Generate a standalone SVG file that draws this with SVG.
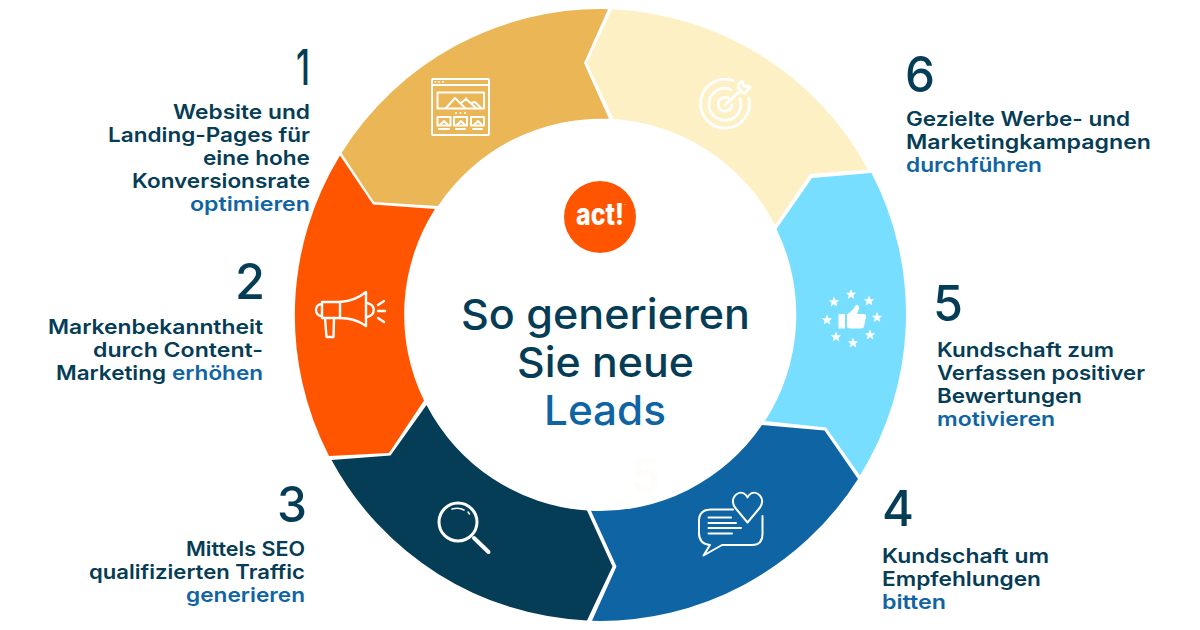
<svg xmlns="http://www.w3.org/2000/svg" width="1200" height="630" viewBox="0 0 1200 630">
<style>
text{font-family:"Inter","Liberation Sans",sans-serif}
.l{font-size:20px;font-weight:600;fill:#053c56}
.n{font-size:49px;font-weight:500;fill:#053c56}
.c{font-size:41px;font-weight:500;fill:#053c56}
.b{fill:#0f64a3}
.i{fill:none;stroke:#fff;stroke-width:2;stroke-linecap:round;stroke-linejoin:round}
.i2{fill:none;stroke:#fff;stroke-width:3;stroke-linecap:round;stroke-linejoin:round}
.f{fill:#fff}
</style>
<defs>
<polygon id="star" points="0,-5.500 1.500,-1.800 5.200,-1.700 2.400,0.700 3.300,4.400 0,2.300 -3.300,4.400 -2.400,0.700 -5.200,-1.700 -1.500,-1.800" fill="#fff"/>
</defs>
<rect width="1200" height="630" fill="#fff"/>

<g id="step-1">
<path d="M341.500 153A306 306 0 0 1 608 9.200L584 63L609 118.800A196 196 0 0 0 438 206L374 202Z" fill="#eab656"/>
<g class="i">
<rect x="432" y="79" width="57" height="56" rx="1"/>
<path d="M432 85H489"/>
<rect x="437.500" y="92.500" width="46.500" height="16"/>
<path d="M446 108L455 98L465 108M461 103L466 99L476 108M471 103L475 102L481 108"/>
<rect x="437.500" y="117" width="13" height="8.500"/><rect x="454" y="117" width="13" height="8.500"/><rect x="471" y="117" width="13" height="8.500"/>
<path d="M440 125L444 121L448 125M457 125L461 121L465 125M474 125L478 121L482 125M439 129H449M456 129H465M473 129H482"/>
</g>
<g class="f"><circle cx="435.500" cy="82" r="1"/><circle cx="439" cy="82" r="1"/><circle cx="443" cy="82" r="1"/><circle cx="456" cy="113" r="1"/><circle cx="460.500" cy="113" r="1"/><circle cx="465" cy="113" r="1"/><circle cx="466" cy="98" r=".8"/></g>
<text class="n" x="296" y="85" textLength="14" lengthAdjust="spacingAndGlyphs">1</text>
<text class="l" x="173" y="119" textLength="137" lengthAdjust="spacingAndGlyphs">Website und</text>
<text class="l" x="108" y="142" textLength="202" lengthAdjust="spacingAndGlyphs">Landing-Pages für</text>
<text class="l" x="203" y="165" textLength="107" lengthAdjust="spacingAndGlyphs">eine hohe</text>
<text class="l" x="132" y="188" textLength="178" lengthAdjust="spacingAndGlyphs">Konversionsrate</text>
<text class="l b" x="190" y="211" textLength="120" lengthAdjust="spacingAndGlyphs">optimieren</text>
</g>

<g id="step-2">
<path d="M340 155.500A306 306 0 0 0 329 456L389 453L424 400.500A196 196 0 0 1 435 209L373 204.500Z" fill="#ff5500"/>
<g class="i2" style="stroke-width:2.400">
<rect x="322" y="302" width="18" height="16"/>
<path d="M340 302Q355 301 366 292V326Q355 318 340 318"/>
<path d="M322 304C314 304 314 316 322 316M367 303C376 305 376 315 367 317M325 318L326.500 337H333.500L334 318"/>
<path d="M378 305L384 301M378 311H385M378 318L384 322"/>
</g>
<text class="n" x="235" y="299" textLength="30" lengthAdjust="spacingAndGlyphs">2</text>
<text class="l" x="48" y="334" textLength="215" lengthAdjust="spacingAndGlyphs">Markenbekanntheit</text>
<text class="l" x="93" y="357" textLength="170" lengthAdjust="spacingAndGlyphs">durch Content-</text>
<text class="l" x="56" y="380" textLength="110" lengthAdjust="spacingAndGlyphs">Marketing</text>
<text class="l b" x="172" y="380" textLength="91" lengthAdjust="spacingAndGlyphs">erhöhen</text>
</g>

<g id="step-3">
<path d="M331.500 460L390.500 455.500L426.500 405A196 196 0 0 0 587 510.500L612.500 566.500L587 620.500A306 306 0 0 1 331.500 460Z" fill="#053c56"/>
<g class="i2">
<circle cx="458" cy="522" r="19"/>
<path d="M474 538L488.500 552" stroke-width="4"/>
<path d="M452 509Q459 507 464 510M468 512L469.500 514" stroke-width="1.500"/>
</g>
<text class="n" x="277" y="522" textLength="30" lengthAdjust="spacingAndGlyphs">3</text>
<text class="l" x="186" y="556" textLength="119" lengthAdjust="spacingAndGlyphs">Mittels SEO</text>
<text class="l" x="89" y="579" textLength="216" lengthAdjust="spacingAndGlyphs">qualifizierten Traffic</text>
<text class="l b" x="186" y="602" textLength="119" lengthAdjust="spacingAndGlyphs">generieren</text>
</g>

<g id="step-4">
<path d="M858 479A306 306 0 0 1 592 620.800L616.500 566.500L591 510.800A196 196 0 0 0 762 425L824.500 430.500Z" fill="#0f64a3"/>
<g class="i">
<path d="M733 509.500H711Q699 509.500 699 521V533Q699 544 710 545L703.500 555.500L722 545H752Q762.500 545 762.500 534V516"/>
<path d="M747.500 522.500L735 507.500C729 498 738 490 744 493.500Q746.500 495 747.500 497.500Q748.500 495 751 493.500C757 490 766 498 760 507.500Z"/>
<path d="M708.500 517.500H731M708.500 523H736M708.500 528H741M708.500 533.500H732"/>
</g>
<text class="n" x="882" y="526" textLength="32" lengthAdjust="spacingAndGlyphs">4</text>
<text class="l" x="882" y="563" textLength="167" lengthAdjust="spacingAndGlyphs">Kundschaft um</text>
<text class="l" x="882" y="586" textLength="159" lengthAdjust="spacingAndGlyphs">Empfehlungen</text>
<text class="l b" x="882" y="609" textLength="64" lengthAdjust="spacingAndGlyphs">bitten</text>
</g>

<g id="step-5">
<path d="M871.500 173A306 306 0 0 1 860 475.500L826 427.500L765 421A196 196 0 0 0 776.500 229L812 178Z" fill="#78deff"/>
<g>
<use href="#star" x="851" y="294.500"/><use href="#star" x="869" y="301"/><use href="#star" x="877" y="317.500"/><use href="#star" x="870" y="335"/><use href="#star" x="853" y="343"/><use href="#star" x="836" y="337"/><use href="#star" x="827" y="320"/><use href="#star" x="834" y="302"/>
<rect x="838.500" y="314" width="6.500" height="14.500" fill="#fff"/>
<path d="M847 314.500L853 309.500Q855 306 856 305Q859 304 859 308Q858.500 311 857 314H864Q866.500 314.500 866 317L864 326.500Q863.500 328.500 861 328.500H851Q848 328.500 847 327Z" fill="#fff"/>
</g>
<text class="n" x="933" y="321" textLength="30" lengthAdjust="spacingAndGlyphs">5</text>
<text class="l" x="937" y="357" textLength="177" lengthAdjust="spacingAndGlyphs">Kundschaft zum</text>
<text class="l" x="937" y="380" textLength="208" lengthAdjust="spacingAndGlyphs">Verfassen positiver</text>
<text class="l" x="937" y="403" textLength="145" lengthAdjust="spacingAndGlyphs">Bewertungen</text>
<text class="l b" x="937" y="426" textLength="118" lengthAdjust="spacingAndGlyphs">motivieren</text>
</g>

<g id="step-6">
<path d="M612 9.200A306 306 0 0 1 868 169.500L810 174L775 225A196 196 0 0 0 613.500 119L587 63Z" fill="#fef0c5"/>
<g class="i2" style="stroke-width:2.800">
<path d="M733 80.500A24.500 24.500 0 1 0 749 98.500"/>
<path d="M731 89.500A16 16 0 1 0 740 99"/>
<path d="M728 98A7 7 0 1 0 732 105"/>
<path d="M725 105L741 90M738 85L742 81L744 86L750 87L745 93L740 92Z"/>
</g>
<text class="n" x="905" y="92" textLength="30" lengthAdjust="spacingAndGlyphs">6</text>
<text class="l" x="906" y="126" textLength="224" lengthAdjust="spacingAndGlyphs">Gezielte Werbe- und</text>
<text class="l" x="906" y="149" textLength="245" lengthAdjust="spacingAndGlyphs">Marketingkampagnen</text>
<text class="l b" x="906" y="172" textLength="136" lengthAdjust="spacingAndGlyphs">durchführen</text>
</g>

<g id="center">
<text x="631" y="493" font-size="48" font-weight="600" fill="#fefdf9" textLength="29" lengthAdjust="spacingAndGlyphs">5</text>
<circle cx="600" cy="217" r="36" fill="#ff5500"/>
<text x="576" y="224.500" font-size="30" font-weight="800" fill="#fff" textLength="48" lengthAdjust="spacingAndGlyphs">act!</text>
<text x="624" y="207" font-size="3" fill="#fff">™</text>
<text class="c" x="461" y="329" textLength="289" lengthAdjust="spacingAndGlyphs">So generieren</text>
<text class="c" x="517" y="377" textLength="177" lengthAdjust="spacingAndGlyphs">Sie neue</text>
<text class="c b" x="544" y="425" textLength="122" lengthAdjust="spacingAndGlyphs">Leads</text>
</g>
</svg>
